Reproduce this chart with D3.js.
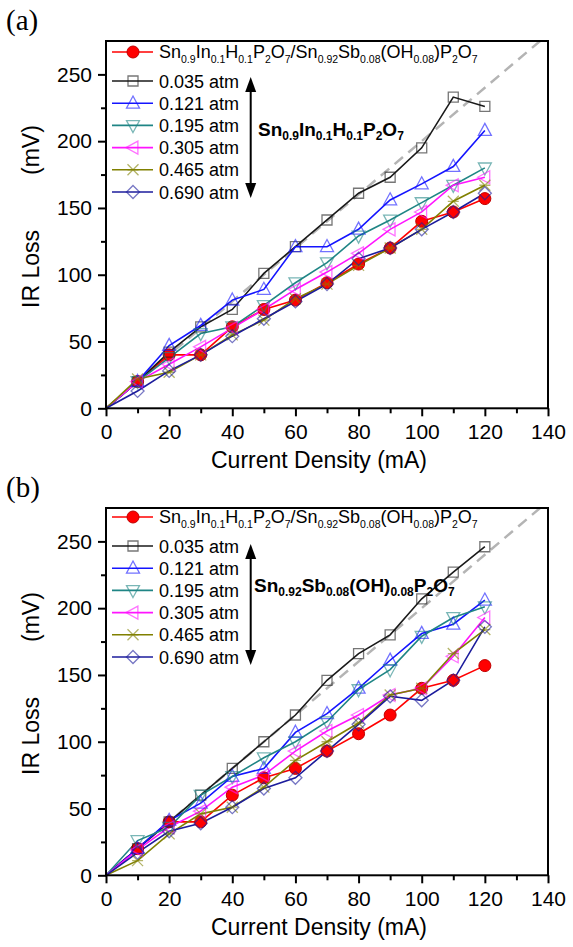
<!DOCTYPE html>
<html><head><meta charset="utf-8">
<script src="https://cdn.jsdelivr.net/npm/d3@7"></script>
<style>
body{margin:0;background:#fff}
svg{display:block}
text{font-family:"Liberation Sans",Arial,Helvetica,sans-serif;fill:#000}
</style>
</head><body>
<svg id="chart" width="573" height="947"></svg>
<script>
// ---------- data ----------
const currents = [0,10,20,30,40,50,60,70,80,90,100,110,120];
const xMajorTicks = [0,20,40,60,80,100,120,140];
const xMinorTicks = [10,30,50,70,90,110,130];
const yMajorTicks = [0,50,100,150,200,250];
const yMinorTicks = [25,75,125,175,225];
const seriesLabels = ["REF","0.035 atm","0.121 atm","0.195 atm","0.305 atm","0.465 atm","0.690 atm"];
const seriesColors = ["#ff0000","#1a1a1a","#1414ff","#1f8585","#ff14ff","#808000","#1c1c9c"];
const seriesShapes = ["circle","square","triUp","triDown","triLeft","times","diamond"];
const refLabel = "Sn_{0.9}In_{0.1}H_{0.1}P_{2}O_{7}/Sn_{0.92}Sb_{0.08}(OH_{0.08})P_{2}O_{7}";

// panel (a): Sn0.9In0.1H0.1P2O7
const aRef  = [0,20,40,40,61,74,81,94,108,120,140,147,157];
const a035  = [0,20,42,61,74,101,121,141,161,173,195,233,226];
const a121  = [0,20,47,62,81,89,121,121,134,156,168,181,208];
const a195  = [0,20,38,56,61,77,94,109,129,141,154,167,180];
const a305  = [0,20,33,46,60,74,89,102,116,134,147,167,173];
const a465  = [0,22,27,40,55,66,82,93,107,120,134,155,167];
const a690  = [0,13,28,40,54,67,80,93,112,120,134,147,161];
const aTitle = "Sn_{0.9}In_{0.1}H_{0.1}P_{2}O_{7}";

// panel (b): Sn0.92Sb0.08(OH)0.08P2O7
const bRef  = [0,20,40,40,60,73,80,93,106,120,140,146,157];
const b035  = [0,20,40,60,80,100,120,146,166,180,207,227,246];
const b121  = [0,20,41,54,74,80,107,121,140,161,181,188,206];
const b195  = [0,26,36,60,74,88,100,115,139,154,179,193,201];
const b305  = [0,19,36,48,66,75,93,108,120,135,140,164,193];
const b465  = [0,11,31,46,51,66,86,100,114,135,140,166,184];
const b690  = [0,17,33,39,51,65,73,93,113,134,131,146,186];
const bTitle = "Sn_{0.92}Sb_{0.08}(OH)_{0.08}P_{2}O_{7}";

const refSlope = [[0,0],[140,280]]; // gray dashed guide

// ---------- drawing ----------
const svg = d3.select("#chart");

function shapePath(shape){
  switch(shape){
    case "square": {const s=5; return `M${-s},${-s}H${s}V${s}H${-s}Z`;}
    case "triUp": {const s=6.5; return `M0,${-s*1.1}L${s},${s*0.75}L${-s},${s*0.75}Z`;}
    case "triDown": {const s=6.5; return `M0,${s*1.1}L${s},${-s*0.75}L${-s},${-s*0.75}Z`;}
    case "triLeft": {const s=6.5; return `M${-s*1.1},0L${s*0.75},${-s}L${s*0.75},${s}Z`;}
    case "diamond": {const s=6.5; return `M0,${-s}L${s},0L0,${s}L${-s},0Z`;}
    case "times": {const s=5.5; return `M${-s},${-s}L${s},${s}M${s},${-s}L${-s},${s}M${-s},0H${s}`;}
  }
  return "";
}
function drawMarker(g, shape, color, cx, cy){
  if(shape==="circle"){
    g.append("circle").attr("cx",cx).attr("cy",cy).attr("r",6)
      .attr("fill","#ff0000").attr("stroke","#c00000").attr("stroke-width",1);
  } else {
    g.append("path").attr("d",shapePath(shape))
      .attr("transform",`translate(${cx},${cy})`)
      .attr("fill","none").attr("stroke",color).attr("stroke-opacity",0.6)
      .attr("stroke-width",1.3);
  }
}
function richText(g, x, y, str, size, subSize, subShift, weight){
  const t = g.append("text").attr("x",x).attr("y",y)
    .attr("font-size",size).attr("font-weight",weight||"normal");
  const re = /_\{([^}]*)\}/g;
  let last = 0, m, shifted = false;
  const parts = [];
  while((m = re.exec(str))){
    if(m.index>last) parts.push([str.slice(last,m.index),false]);
    parts.push([m[1],true]);
    last = re.lastIndex;
  }
  if(last<str.length) parts.push([str.slice(last),false]);
  parts.forEach(([s,sub])=>{
    const ts = t.append("tspan").text(s);
    if(sub){
      ts.attr("font-size",subSize);
      if(!shifted){ts.attr("dy",subShift); shifted=true;}
    } else if(shifted){
      ts.attr("dy",-subShift); shifted=false;
    }
  });
  return t;
}

function drawPanel(offY, letter, data, title, titleBaseline){
  const g = svg.append("g").attr("transform",`translate(0,${offY})`);
  const x = d3.scaleLinear().domain([0,140]).range([106,548]);
  const y = d3.scaleLinear().domain([0,275]).range([408.3,41]);
  const clipId = "clip"+letter;
  g.append("clipPath").attr("id",clipId).append("rect")
    .attr("x",106).attr("y",41).attr("width",442).attr("height",367.3);

  // panel letter
  g.append("text").attr("x",6).attr("y",30).attr("font-size",29)
    .style("font-family","'Liberation Serif','Times New Roman',serif").text(`(${letter})`);

  // dashed guide line
  g.append("path").attr("clip-path",`url(#${clipId})`)
    .attr("d",d3.line().x(d=>x(d[0])).y(d=>y(d[1]))(refSlope))
    .attr("fill","none").attr("stroke","#b4b4b4").attr("stroke-width",2.5)
    .attr("stroke-dasharray","11,7");

  // axes
  const axB = g.append("g").attr("transform","translate(0,408.3)");
  axB.call(d3.axisBottom(x).tickValues(xMinorTicks).tickSize(5).tickFormat(""));
  const axBM = g.append("g").attr("transform","translate(0,408.3)");
  axBM.call(d3.axisBottom(x).tickValues(xMajorTicks).tickSize(8).tickPadding(8).tickFormat(d3.format("d")));
  const axL = g.append("g").attr("transform","translate(106,0)");
  axL.call(d3.axisLeft(y).tickValues(yMinorTicks).tickSize(5).tickFormat(""));
  const axLM = g.append("g").attr("transform","translate(106,0)");
  axLM.call(d3.axisLeft(y).tickValues(yMajorTicks).tickSize(8).tickPadding(6).tickFormat(d3.format("d")));
  [axB,axBM,axL,axLM].forEach(a=>{
    a.select(".domain").remove();
    a.selectAll("line").attr("stroke","#000").attr("stroke-width",2);
    a.selectAll("text").attr("font-size",21)
      .style("font-family","'Liberation Sans',Arial,sans-serif").attr("fill","#000");
  });

  // axis titles
  g.append("text").attr("x",319).attr("y",468).attr("text-anchor","middle")
    .attr("font-size",23).text("Current Density (mA)");
  const yt = g.append("text").attr("transform","translate(39,308) rotate(-90)")
    .attr("font-size",23);
  yt.append("tspan").text("IR Loss");
  yt.append("tspan").attr("dx",55).text("(mV)");

  // series
  const line = d3.line().x((d,i)=>x(currents[i])).y(d=>y(d));
  data.forEach((vals,k)=>{
    g.append("path").attr("d",line(vals)).attr("fill","none")
      .attr("stroke",seriesColors[k]).attr("stroke-width",1.6);
  });
  data.forEach((vals,k)=>{
    const mg = g.append("g");
    vals.forEach((v,i)=>{ if(i>0) drawMarker(mg, seriesShapes[k], seriesColors[k], x(currents[i]), y(v)); });
  });

  // frame
  g.append("rect").attr("x",106).attr("y",41).attr("width",442).attr("height",367.3)
    .attr("fill","none").attr("stroke","#000").attr("stroke-width",2);

  // legend
  const rows = [52, 81, 103.2, 125.4, 147.6, 169.8, 192];
  seriesLabels.forEach((lab,k)=>{
    const ry = rows[k] + (letter==="b"? -2 : 0);
    g.append("line").attr("x1",112).attr("x2",153).attr("y1",ry).attr("y2",ry)
      .attr("stroke",seriesColors[k]).attr("stroke-width",1.6);
    drawMarker(g, seriesShapes[k], seriesColors[k], 133, ry);
    if(k===0){
      richText(g,159,ry+6,refLabel,18,10.5,5,"normal");
    } else {
      g.append("text").attr("x",159).attr("y",ry+6.5).attr("font-size",18).text(lab);
    }
  });

  // double arrow
  const ax = 250.7, top = 77, bot = 198;
  g.append("line").attr("x1",ax).attr("x2",ax).attr("y1",top+8).attr("y2",bot-8)
    .attr("stroke","#000").attr("stroke-width",2);
  g.append("path").attr("d",`M${ax},${top}L${ax+5.5},${top+15}L${ax-5.5},${top+15}Z`).attr("fill","#000");
  g.append("path").attr("d",`M${ax},${bot}L${ax+5.5},${bot-15}L${ax-5.5},${bot-15}Z`).attr("fill","#000");

  // composition label
  richText(g, letter==="a"?258:254, titleBaseline, title, 19, 12, 4, "bold");
}

drawPanel(0, "a", [aRef,a035,a121,a195,a305,a465,a690], aTitle, 136);
drawPanel(467, "b", [bRef,b035,b121,b195,b305,b465,b690], bTitle, 125);
</script>
</body></html>
